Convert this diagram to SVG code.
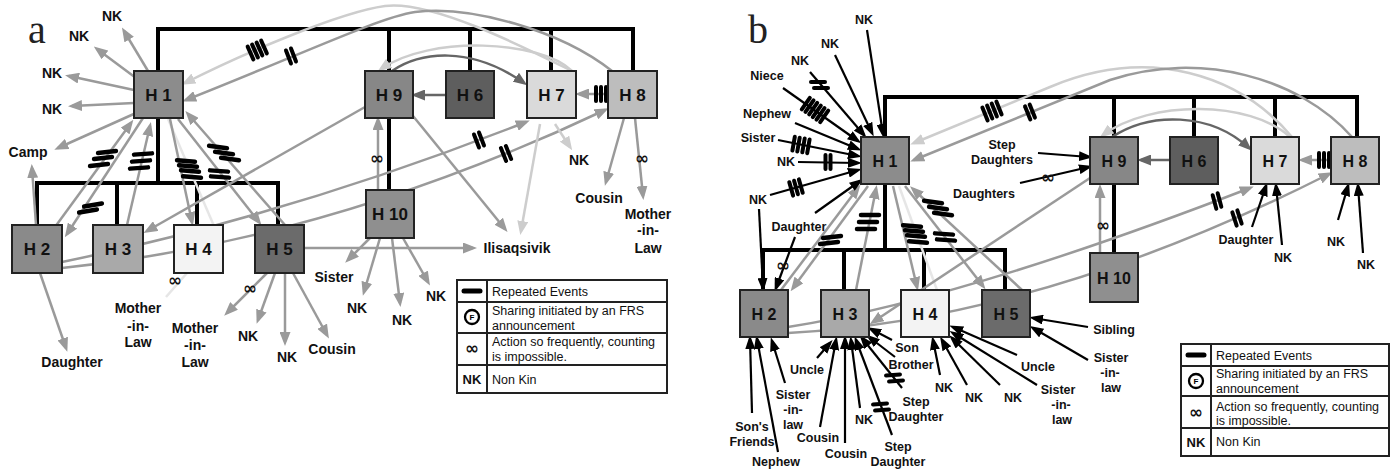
<svg xmlns="http://www.w3.org/2000/svg" xmlns:xlink="http://www.w3.org/1999/xlink" width="1395" height="470" viewBox="0 0 1395 470">
<defs>
<style>
.box{stroke:#222;stroke-width:2}
.nl{font-family:"Liberation Sans",Arial,sans-serif;font-weight:bold;font-size:17px;text-anchor:middle;fill:#111}
.nlb{font-family:"Liberation Sans",Arial,sans-serif;font-weight:bold;font-size:16px;text-anchor:middle;fill:#111}
.la{font-family:"Liberation Sans",Arial,sans-serif;font-weight:bold;font-size:14px;text-anchor:middle;fill:#111}
.lb{font-family:"Liberation Sans",Arial,sans-serif;font-weight:bold;font-size:12.5px;text-anchor:middle;fill:#111}
.lg{font-family:"Liberation Sans",Arial,sans-serif;font-size:12.5px;fill:#111}
.lgk{font-family:"Liberation Sans",Arial,sans-serif;font-weight:bold;font-size:13px;text-anchor:middle;fill:#111}
.inf{font-family:"DejaVu Sans",sans-serif;font-weight:bold;font-size:17px;text-anchor:middle;fill:#111}
.pl{font-family:"Liberation Serif","Times New Roman",serif;font-size:40px;fill:#222}
.bus{stroke:#000;stroke-width:4;fill:none}
.g{stroke:#9a9a9a;stroke-width:2.5;fill:none;marker-end:url(#ag)}
.gn{stroke:#9a9a9a;stroke-width:2.5;fill:none}
.l{stroke:#cdcdcd;stroke-width:2.5;fill:none;marker-end:url(#al)}
.vl{stroke:#e6e6e6;stroke-width:2.5;fill:none}
.d{stroke:#666;stroke-width:2.5;fill:none;marker-end:url(#ad)}
.k{stroke:#000;stroke-width:2.2;fill:none;marker-end:url(#ak)}
.mk{stroke:#000;stroke-width:4.5;stroke-linecap:round}
.mks{stroke:#000;stroke-width:4;stroke-linecap:round}
.lgb{fill:none;stroke:#222;stroke-width:2}
</style>
<marker id="ag" markerUnits="userSpaceOnUse" markerWidth="14" markerHeight="11" refX="10" refY="5.5" orient="auto"><path d="M0,0 L14,5.5 L0,11 z" fill="#9a9a9a"/></marker>
<marker id="al" markerUnits="userSpaceOnUse" markerWidth="14" markerHeight="11" refX="10" refY="5.5" orient="auto"><path d="M0,0 L14,5.5 L0,11 z" fill="#cdcdcd"/></marker>
<marker id="ad" markerUnits="userSpaceOnUse" markerWidth="14" markerHeight="11" refX="10" refY="5.5" orient="auto"><path d="M0,0 L14,5.5 L0,11 z" fill="#666"/></marker>
<marker id="ak" markerUnits="userSpaceOnUse" markerWidth="14" markerHeight="10" refX="10" refY="5" orient="auto"><path d="M0,0 L14,5 L0,10 z" fill="#000"/></marker>
<line id="bar" class="mk" x1="-9" y1="0" x2="9" y2="0"/>
<line id="sbar" class="mks" x1="-7" y1="0" x2="7" y2="0"/>
</defs>
<rect width="1395" height="470" fill="#fff"/>

<text class="pl" x="28" y="43">a</text>
<text class="pl" x="748" y="43">b</text>

<!-- ================= PANEL A connectors ================= -->
<g id="a-connectors">
<path class="bus" d="M158,71 V29 H633 V71 M389,29 V71 M470,29 V71 M551,29 V71 M389,118 V190 M158,118 V183 M37,225 V183 H278 V225 M117,183 V225 M197,183 V225"/>
<!-- long arcs -->
<path class="l" d="M572,71 C520,45 430,0 385,6 C340,12 240,55 185,83"/>
<path class="g" d="M612,71 C560,30 470,5 415,12 C380,17 300,55 186,100"/>
<path class="l" d="M572,71 C540,40 430,35 381,69"/>
<path class="d" d="M392,71 C420,52 470,45 524,83"/>
<path class="d" d="M446,95 L415,95"/>
<path class="g" d="M608,94 L579,94"/>
<!-- H1 outgoing -->
<path class="g" d="M148,71 L124,31"/>
<path class="g" d="M136,78 L97,49"/>
<path class="g" d="M134,90 L69,76"/>
<path class="g" d="M134,103 L72,106"/>
<path class="g" d="M136,113 L58,148"/>
<path class="g" d="M36,225 L32,168"/>
<path class="g" d="M55,227 L131,123"/>
<path class="g" d="M143,118 L67,234"/>
<path class="g" d="M127,225 L150,126"/>
<path class="vl" d="M168,119 L214,226"/>
<path class="g" d="M170,119 L192,222"/>
<path class="g" d="M178,119 L259,222"/>
<path class="g" d="M285,225 L188,114"/>
<path class="g" d="M365,107 L147,231"/>
<path class="g" d="M62,262 Q290,215 526,122"/>
<path class="g" d="M62,268 Q330,240 605,110"/>
<path class="g" d="M378,190 L378,120"/>
<path class="g" d="M413,116 L505,229"/>
<path class="l" d="M540,124 L521,231"/>
<path class="l" d="M555,124 L570,147"/>
<path class="g" d="M624,118 L606,182"/>
<path class="g" d="M635,118 L643,196"/>
<path class="g" d="M304,248 L473,248"/>
<path class="g" d="M370,238 L348,260"/>
<path class="g" d="M380,238 L364,292"/>
<path class="g" d="M392,238 L400,303"/>
<path class="g" d="M403,238 L428,282"/>
<path class="g" d="M267,273 L227,313"/>
<path class="g" d="M275,273 L258,320"/>
<path class="g" d="M285,273 L285,342"/>
<path class="g" d="M293,273 L327,335"/>
<path class="vl" d="M187,273 L166,297"/>
<path class="g" d="M40,273 L66,348"/>
<!-- marks -->
<use href="#bar" transform="translate(107,152) rotate(-6)"/>
<use href="#bar" transform="translate(103,158) rotate(-6)"/>
<use href="#bar" transform="translate(99,165) rotate(-6)"/>
<use href="#bar" transform="translate(93,205) rotate(-10)"/>
<use href="#bar" transform="translate(88,211) rotate(-10)"/>
<use href="#bar" transform="translate(143,154) rotate(-4)"/>
<use href="#bar" transform="translate(141,161) rotate(-4)"/>
<use href="#bar" transform="translate(139,168) rotate(-4)"/>
<use href="#bar" transform="translate(186,161) rotate(5)"/>
<use href="#bar" transform="translate(188,166) rotate(5)"/>
<use href="#bar" transform="translate(190,171) rotate(5)"/>
<use href="#bar" transform="translate(192,177) rotate(5)"/>
<use href="#bar" transform="translate(218,147) rotate(8)"/>
<use href="#bar" transform="translate(224,153) rotate(8)"/>
<use href="#bar" transform="translate(230,159) rotate(8)"/>
<use href="#bar" transform="translate(219,171) rotate(4)"/>
<use href="#bar" transform="translate(220,177) rotate(4)"/>
<use href="#sbar" transform="translate(264,47) rotate(66)"/>
<use href="#sbar" transform="translate(259.5,49) rotate(66)"/>
<use href="#sbar" transform="translate(255,51) rotate(66)"/>
<use href="#sbar" transform="translate(250.5,53) rotate(66)"/>
<use href="#sbar" transform="translate(293.5,55) rotate(69)"/>
<use href="#sbar" transform="translate(288.5,57) rotate(69)"/>
<use href="#sbar" transform="translate(596,94) rotate(90)"/>
<use href="#sbar" transform="translate(601,94) rotate(90)"/>
<use href="#sbar" transform="translate(606,94) rotate(90)"/>
<use href="#sbar" transform="translate(481.5,139) rotate(69)"/>
<use href="#sbar" transform="translate(476.5,141) rotate(69)"/>
<use href="#sbar" transform="translate(508.5,152.5) rotate(68)"/>
<use href="#sbar" transform="translate(503.5,154.5) rotate(68)"/>
</g>

<!-- ================= PANEL A nodes ================= -->
<g id="a-H1"><rect class="box" x="134" y="71" width="49" height="47" fill="#8c8c8c"/><text class="nl" x="158.5" y="100.5">H 1</text></g>
<g id="a-H9"><rect class="box" x="365" y="71" width="48" height="47" fill="#878787"/><text class="nl" x="389" y="100.5">H 9</text></g>
<g id="a-H6"><rect class="box" x="446" y="71" width="48" height="47" fill="#5e5e5e"/><text class="nl" x="470" y="100.5">H 6</text></g>
<g id="a-H7"><rect class="box" x="527" y="71" width="49" height="47" fill="#dadada"/><text class="nl" x="551.5" y="100.5">H 7</text></g>
<g id="a-H8"><rect class="box" x="608" y="71" width="49" height="47" fill="#bdbdbd"/><text class="nl" x="632.5" y="100.5">H 8</text></g>
<g id="a-H10"><rect class="box" x="366" y="190" width="48" height="48" fill="#8f8f8f"/><text class="nl" x="390" y="220">H 10</text></g>
<g id="a-H2"><rect class="box" x="12" y="225" width="50" height="48" fill="#8a8a8a"/><text class="nl" x="37" y="255">H 2</text></g>
<g id="a-H3"><rect class="box" x="93" y="225" width="50" height="48" fill="#a9a9a9"/><text class="nl" x="118" y="255">H 3</text></g>
<g id="a-H4"><rect class="box" x="174" y="225" width="49" height="48" fill="#f3f3f3"/><text class="nl" x="198.5" y="255">H 4</text></g>
<g id="a-H5"><rect class="box" x="255" y="225" width="49" height="48" fill="#6b6b6b"/><text class="nl" x="279.5" y="255">H 5</text></g>

<!-- panel a labels -->
<g id="a-labels">
<text class="la" x="112" y="21">NK</text>
<text class="la" x="79" y="41">NK</text>
<text class="la" x="52" y="78">NK</text>
<text class="la" x="52" y="114">NK</text>
<text class="la" x="28" y="157">Camp</text>
<text class="la" x="579" y="165">NK</text>
<text class="la" x="599" y="203">Cousin</text>
<text class="la" x="648" y="219">Mother</text>
<text class="la" x="648" y="235">-in-</text>
<text class="la" x="648" y="253">Law</text>
<text class="la" x="517" y="253">Ilisaqsivik</text>
<text class="la" x="334" y="282">Sister</text>
<text class="la" x="357" y="313">NK</text>
<text class="la" x="402" y="325">NK</text>
<text class="la" x="436" y="301">NK</text>
<text class="la" x="195" y="333">Mother</text>
<text class="la" x="195" y="350">-in-</text>
<text class="la" x="195" y="367">Law</text>
<text class="la" x="248" y="341">NK</text>
<text class="la" x="287" y="362">NK</text>
<text class="la" x="332" y="354">Cousin</text>
<text class="la" x="138" y="313">Mother</text>
<text class="la" x="138" y="331">-in-</text>
<text class="la" x="138" y="347">Law</text>
<text class="la" x="72" y="367">Daughter</text>
<text class="inf" x="377" y="164">∞</text>
<text class="inf" x="642" y="164">∞</text>
<text class="inf" x="175" y="286">∞</text>
<text class="inf" x="250" y="294">∞</text>
</g>

<!-- panel a legend -->
<g id="a-legend">
<rect class="lgb" x="457" y="280" width="210" height="113" fill="#fff"/>
<path class="lgb" d="M487,280 V393 M457,302 H667 M457,333 H667 M457,365 H667"/>
<line x1="464" y1="291" x2="480" y2="291" stroke="#000" stroke-width="5" stroke-linecap="round"/>
<circle cx="472" cy="317" r="7" fill="#fff" stroke="#000" stroke-width="2.3"/>
<text x="472" y="320" font-family="Liberation Sans,Arial,sans-serif" font-weight="bold" font-size="8" text-anchor="middle">F</text>
<text class="inf" x="472" y="354">∞</text>
<text class="lgk" x="472" y="384">NK</text>
<text class="lg" x="492" y="296">Repeated Events</text>
<text class="lg" x="492" y="315">Sharing initiated by an FRS</text>
<text class="lg" x="492" y="330">announcement</text>
<text class="lg" x="492" y="346">Action so frequently, counting</text>
<text class="lg" x="492" y="361">is impossible.</text>
<text class="lg" x="492" y="384">Non Kin</text>
</g>

<!-- ================= PANEL B connectors ================= -->
<g id="b-connectors">
<path class="bus" d="M885,137 V97 H1357 V137 M1114,97 V137 M1194,97 V137 M1275,97 V137 M1114,184 V253 M885,184 V250 M763,290 V250 H1005 V290 M844,250 V290 M924,250 V290"/>
<!-- grey household links -->
<path class="l" d="M1292,137 C1240,75 1150,45 1050,87 L914,143"/>
<path class="g" d="M1352,137 C1300,78 1200,50 1110,80 L914,160"/>
<path class="l" d="M1290,137 C1250,100 1150,100 1103,135"/>
<path class="d" d="M1112,137 C1150,112 1210,112 1249,148"/>
<path class="d" d="M1170,160 L1141,160"/>
<path class="g" d="M1331,160 L1302,160"/>
<path class="g" d="M781,290 L858,188"/>
<path class="g" d="M868,186 L793,288"/>
<path class="g" d="M856,290 L876,189"/>
<path class="vl" d="M899,186 L937,290"/>
<path class="g" d="M893,186 L917,287"/>
<path class="g" d="M905,186 L983,286"/>
<path class="g" d="M1022,290 L913,189"/>
<path class="g" d="M1090,178 L873,322"/>
<path class="g" d="M788,327 Q960,300 1250,188"/>
<path class="g" d="M788,333 Q1040,320 1329,174"/>
<path class="g" d="M1100,253 L1100,188"/>
<!-- black incoming arrows -->
<path class="k" d="M867,30 L883,134"/>
<path class="k" d="M835,55 L872,133"/>
<path class="k" d="M810,72 L864,135"/>
<path class="k" d="M783,88 L858,141"/>
<path class="k" d="M795,123 L858,149"/>
<path class="k" d="M778,140 L858,156"/>
<path class="k" d="M798,162 L858,163"/>
<path class="k" d="M770,195 L858,170"/>
<path class="k" d="M815,213 L860,181"/>
<path class="k" d="M759,209 L763,288"/>
<path class="k" d="M795,237 L776,288"/>
<path class="k" d="M752,413 L750,339"/>
<path class="k" d="M778,452 L757,339"/>
<path class="k" d="M785,383 L772,341"/>
<path class="k" d="M817,358 L830,343"/>
<path class="k" d="M820,427 L836,340"/>
<path class="k" d="M845,443 L845,339"/>
<path class="k" d="M860,408 L851,340"/>
<path class="k" d="M892,435 L856,340"/>
<path class="k" d="M902,388 L862,338"/>
<path class="k" d="M895,357 L869,337"/>
<path class="k" d="M892,340 L871,329"/>
<path class="k" d="M940,375 L933,340"/>
<path class="k" d="M967,385 L942,340"/>
<path class="k" d="M1000,385 L952,338"/>
<path class="k" d="M1017,355 L953,327"/>
<path class="k" d="M1037,385 L953,333"/>
<path class="k" d="M1088,327 L1033,318"/>
<path class="k" d="M1088,360 L1033,328"/>
<path class="k" d="M1038,153 L1089,157"/>
<path class="k" d="M1020,183 L1089,167"/>
<path class="k" d="M1252,227 L1266,186"/>
<path class="k" d="M1282,245 L1276,186"/>
<path class="k" d="M1338,220 L1348,186"/>
<path class="k" d="M1363,253 L1358,186"/>
<!-- marks -->
<use href="#sbar" transform="translate(818,82)"/>
<use href="#sbar" transform="translate(821,88)"/>
<use href="#sbar" transform="translate(805.8,103.6) rotate(125)"/>
<use href="#sbar" transform="translate(809.5,106.2) rotate(125)"/>
<use href="#sbar" transform="translate(813.2,108.7) rotate(125)"/>
<use href="#sbar" transform="translate(816.8,111.3) rotate(125)"/>
<use href="#sbar" transform="translate(820.5,113.8) rotate(125)"/>
<use href="#sbar" transform="translate(824.2,116.4) rotate(125)"/>
<use href="#sbar" transform="translate(793.6,143.7) rotate(100)"/>
<use href="#sbar" transform="translate(798.5,144.6) rotate(100)"/>
<use href="#sbar" transform="translate(803.5,145.4) rotate(100)"/>
<use href="#sbar" transform="translate(808.4,146.3) rotate(100)"/>
<use href="#sbar" transform="translate(825.5,162) rotate(90)"/>
<use href="#sbar" transform="translate(830.5,162) rotate(90)"/>
<use href="#sbar" transform="translate(791.2,188.9) rotate(74)"/>
<use href="#sbar" transform="translate(796,187.5) rotate(74)"/>
<use href="#sbar" transform="translate(800.8,186.1) rotate(74)"/>
<use href="#sbar" transform="translate(1319,160) rotate(90)"/>
<use href="#sbar" transform="translate(1324,160) rotate(90)"/>
<use href="#sbar" transform="translate(1329,160) rotate(90)"/>
<use href="#sbar" transform="translate(1214.5,202) rotate(75)"/>
<use href="#sbar" transform="translate(1219.5,200) rotate(75)"/>
<use href="#sbar" transform="translate(1234.5,219) rotate(72)"/>
<use href="#sbar" transform="translate(1239.5,217) rotate(72)"/>
<use href="#sbar" transform="translate(999,108) rotate(68)"/>
<use href="#sbar" transform="translate(994.3,110) rotate(68)"/>
<use href="#sbar" transform="translate(989.7,112) rotate(68)"/>
<use href="#sbar" transform="translate(985,114) rotate(68)"/>
<use href="#sbar" transform="translate(1032.3,111.1) rotate(68)"/>
<use href="#sbar" transform="translate(1027.7,112.9) rotate(68)"/>
<use href="#bar" transform="translate(832,237) rotate(-6)"/>
<use href="#bar" transform="translate(829,243) rotate(-6)"/>
<use href="#bar" transform="translate(870,215)"/>
<use href="#bar" transform="translate(868,222)"/>
<use href="#bar" transform="translate(866,229)"/>
<use href="#bar" transform="translate(912,226) rotate(5)"/>
<use href="#bar" transform="translate(914,231) rotate(5)"/>
<use href="#bar" transform="translate(916,236) rotate(5)"/>
<use href="#bar" transform="translate(918,242) rotate(5)"/>
<use href="#bar" transform="translate(933,202) rotate(8)"/>
<use href="#bar" transform="translate(938,208) rotate(8)"/>
<use href="#bar" transform="translate(943,214) rotate(8)"/>
<use href="#bar" transform="translate(944,234) rotate(4)"/>
<use href="#bar" transform="translate(946,240) rotate(4)"/>
<use href="#sbar" transform="translate(880,404) rotate(-5)"/>
<use href="#sbar" transform="translate(882,410) rotate(-5)"/>
<use href="#sbar" transform="translate(893,375) rotate(-5)"/>
<use href="#sbar" transform="translate(896,381) rotate(-5)"/>
</g>

<!-- ================= PANEL B nodes ================= -->
<g id="b-H1"><rect class="box" x="861" y="137" width="48" height="47" fill="#8c8c8c"/><text class="nlb" x="885" y="166.5">H 1</text></g>
<g id="b-H9"><rect class="box" x="1090" y="137" width="48" height="47" fill="#878787"/><text class="nlb" x="1114" y="166.5">H 9</text></g>
<g id="b-H6"><rect class="box" x="1170" y="137" width="48" height="47" fill="#5e5e5e"/><text class="nlb" x="1194" y="166.5">H 6</text></g>
<g id="b-H7"><rect class="box" x="1251" y="137" width="48" height="47" fill="#dadada"/><text class="nlb" x="1275" y="166.5">H 7</text></g>
<g id="b-H8"><rect class="box" x="1331" y="137" width="48" height="47" fill="#bdbdbd"/><text class="nlb" x="1355" y="166.5">H 8</text></g>
<g id="b-H10"><rect class="box" x="1090" y="253" width="48" height="49" fill="#8f8f8f"/><text class="nlb" x="1114" y="283.5">H 10</text></g>
<g id="b-H2"><rect class="box" x="740" y="290" width="48" height="47" fill="#8a8a8a"/><text class="nlb" x="764" y="319.5">H 2</text></g>
<g id="b-H3"><rect class="box" x="821" y="290" width="48" height="47" fill="#a9a9a9"/><text class="nlb" x="845" y="319.5">H 3</text></g>
<g id="b-H4"><rect class="box" x="901" y="290" width="48" height="47" fill="#f3f3f3"/><text class="nlb" x="925" y="319.5">H 4</text></g>
<g id="b-H5"><rect class="box" x="982" y="290" width="48" height="47" fill="#6b6b6b"/><text class="nlb" x="1006" y="319.5">H 5</text></g>

<!-- panel b labels -->
<g id="b-labels">
<text class="lb" x="864" y="24">NK</text>
<text class="lb" x="830" y="48">NK</text>
<text class="lb" x="800" y="65">NK</text>
<text class="lb" x="767" y="80">Niece</text>
<text class="lb" x="767" y="118">Nephew</text>
<text class="lb" x="758" y="142">Sister</text>
<text class="lb" x="786" y="166">NK</text>
<text class="lb" x="758" y="204">NK</text>
<text class="lb" x="799" y="231">Daughter</text>
<text class="lb" x="1002" y="149">Step</text>
<text class="lb" x="1002" y="164">Daughters</text>
<text class="lb" x="984" y="198">Daughters</text>
<text class="lb" x="1246" y="244">Daughter</text>
<text class="lb" x="1283" y="262">NK</text>
<text class="lb" x="1336" y="246">NK</text>
<text class="lb" x="1366" y="269">NK</text>
<text class="lb" x="752" y="431">Son's</text>
<text class="lb" x="752" y="446">Friends</text>
<text class="lb" x="776" y="466">Nephew</text>
<text class="lb" x="807" y="374">Uncle</text>
<text class="lb" x="793" y="399">Sister</text>
<text class="lb" x="793" y="414">-in-</text>
<text class="lb" x="793" y="429">law</text>
<text class="lb" x="818" y="442">Cousin</text>
<text class="lb" x="846" y="458">Cousin</text>
<text class="lb" x="864" y="424">NK</text>
<text class="lb" x="898" y="451">Step</text>
<text class="lb" x="898" y="466">Daughter</text>
<text class="lb" x="916" y="406">Step</text>
<text class="lb" x="916" y="421">Daughter</text>
<text class="lb" x="907" y="352">Son</text>
<text class="lb" x="911" y="369">Brother</text>
<text class="lb" x="944" y="392">NK</text>
<text class="lb" x="974" y="402">NK</text>
<text class="lb" x="1013" y="402">NK</text>
<text class="lb" x="1038" y="371">Uncle</text>
<text class="lb" x="1058" y="394">Sister</text>
<text class="lb" x="1061" y="409">-in-</text>
<text class="lb" x="1062" y="424">law</text>
<text class="lb" x="1114" y="334">Sibling</text>
<text class="lb" x="1111" y="362">Sister</text>
<text class="lb" x="1110" y="377">-in-</text>
<text class="lb" x="1111" y="392">law</text>
<text class="inf" x="1103" y="231">∞</text>
<text class="inf" x="1048" y="183">∞</text>
<text class="inf" x="783" y="271">∞</text>
</g>

<!-- panel b legend -->
<g id="b-legend">
<rect class="lgb" x="1181" y="344" width="208" height="112" fill="#fff"/>
<path class="lgb" d="M1211,344 V456 M1181,366 H1389 M1181,396 H1389 M1181,428 H1389"/>
<line x1="1188" y1="355" x2="1204" y2="355" stroke="#000" stroke-width="5" stroke-linecap="round"/>
<circle cx="1196" cy="381" r="7" fill="#fff" stroke="#000" stroke-width="2.3"/>
<text x="1196" y="384" font-family="Liberation Sans,Arial,sans-serif" font-weight="bold" font-size="8" text-anchor="middle">F</text>
<text class="inf" x="1196" y="418">∞</text>
<text class="lgk" x="1196" y="447">NK</text>
<text class="lg" x="1216" y="360">Repeated Events</text>
<text class="lg" x="1216" y="378">Sharing initiated by an FRS</text>
<text class="lg" x="1216" y="393">announcement</text>
<text class="lg" x="1216" y="411">Action so frequently, counting</text>
<text class="lg" x="1216" y="425">is impossible.</text>
<text class="lg" x="1216" y="446">Non Kin</text>
</g>
</svg>
